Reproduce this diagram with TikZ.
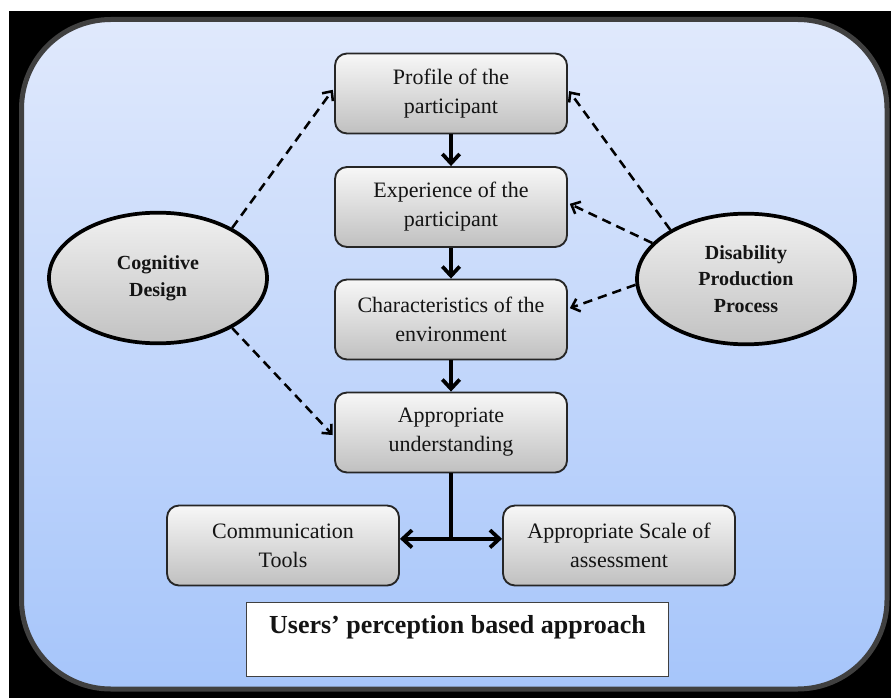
\documentclass[tikz,border=0pt]{standalone}
\usepackage{fontspec}
\setmainfont{Liberation Serif}
\usetikzlibrary{arrows.meta,positioning,shapes.geometric}
\definecolor{skytop}{RGB}{224,233,252}
\definecolor{skybottom}{RGB}{166,197,250}
\definecolor{framegray}{RGB}{64,64,64}
\definecolor{boxtop}{RGB}{247,247,247}
\definecolor{boxbottom}{RGB}{192,192,192}
\definecolor{bubbletop}{RGB}{240,240,240}
\definecolor{bubblebottom}{RGB}{194,194,194}
\definecolor{inktext}{RGB}{20,20,20}
\tikzset{
	stagebox/.style={draw=black!85, line width=1.4pt, rounded corners=9pt, top color=boxtop, bottom color=boxbottom, minimum width=174pt, minimum height=60pt, inner sep=0pt, align=center, text=inktext, font=\fontsize{16.5}{21.75}\selectfont},
	theorybubble/.style={ellipse, draw=black, line width=2.8pt, top color=bubbletop, bottom color=bubblebottom, minimum width=163.5pt, minimum height=98pt, inner sep=0pt, align=center, text=inktext, font=\bfseries\fontsize{15}{20}\selectfont},
	titlebox/.style={draw=black!75, line width=0.8pt, fill=white, minimum width=316pt, minimum height=56pt, inner sep=0pt},
	titletext/.style={inner sep=0pt, text=inktext, font=\bfseries\fontsize{19.5}{24}\selectfont},
	flowarrow/.style={line width=2.8pt, -{Straight Barb[length=7pt,width=13pt]}},
	bothway/.style={line width=2.8pt, {Straight Barb[length=7pt,width=13pt]}-{Straight Barb[length=7pt,width=13pt]}},
	linkarrow/.style={line width=1.9pt, dash pattern=on 7pt off 4.5pt, shorten >=1.5pt, -{Straight Barb[length=5.5pt,width=10pt]}}
}

\begin{document}
\begin{tikzpicture}[x=0.75pt, y=-0.75pt]
			%%%%% START %%%%%
			\useasboundingbox (0,0) rectangle (891,698);
			\fill[white] (0,0) rectangle (891,698);
			\fill[black] (9,11) rectangle (891,698);
			\path[draw=framegray, line width=3.75pt, rounded corners=67pt, top color=skytop, bottom color=skybottom] (21.5,19.5) rectangle (887,689);
			
			\node[stagebox] (profile) at (451,93.5) {Profile of the\\participant};
			\node[stagebox] (experience) at (451,207) {Experience of the\\participant};
			\node[stagebox] (environment) at (451,319.5) {Characteristics of the\\environment};
			\node[stagebox] (understanding) at (451,432.5) {Appropriate\\understanding};
			
			\node[stagebox] (tools) at (283,545.5) {Communication\\Tools};
			\node[stagebox] (scale) at (619,545.5) {Appropriate Scale of\\assessment};
			
			\node[theorybubble] (cognitive) at (158,278) {Cognitive\\Design};
			\node[theorybubble] (disability) at (746,279) {Disability\\Production\\Process};
			
			\draw[flowarrow] (profile) -- (experience);
			\draw[flowarrow] (experience) -- (environment);
			\draw[flowarrow] (environment) -- (understanding);
			
			\coordinate (fork) at (understanding.south |- tools.east);
			\draw[line width=2.8pt] (understanding.south) -- ([yshift=5pt]fork);
			\draw[bothway] ([yshift=5pt]tools.east) -- ([yshift=5pt]scale.west);
			
			\draw[linkarrow] (cognitive.34) -- ([yshift=4pt]profile.west);
			\draw[linkarrow] (cognitive.-34) -- ([yshift=-3pt]understanding.west);
			\draw[linkarrow] (disability.147) -- ([yshift=3pt]profile.east);
			\draw[linkarrow] (disability.159) -- ([yshift=3pt]experience.east);
			\draw[linkarrow] (disability.183) -- ([yshift=8pt]environment.east);
			
			\node[titlebox] (title) at (457.5,639.5) {};
			\node[titletext, below=10pt of title.north] (titlelabel) {Users’ perception based approach};
			%%%%% END %%%%%
\end{tikzpicture}
\end{document}
